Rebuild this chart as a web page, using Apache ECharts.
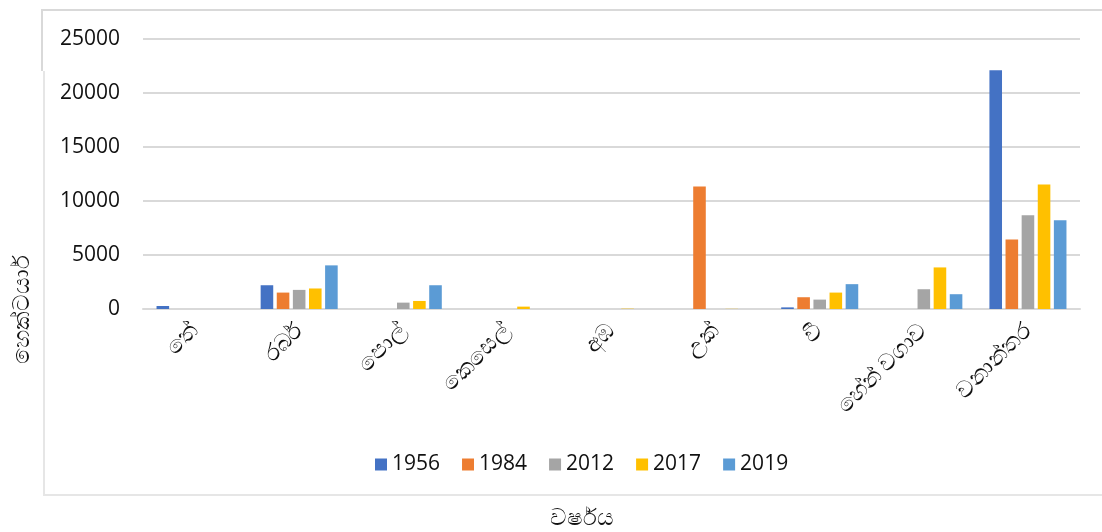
<!DOCTYPE html>
<html>
<head>
<meta charset="utf-8">
<script src="https://cdn.jsdelivr.net/npm/echarts@6/dist/echarts.min.js"></script>
<style>html,body{margin:0;padding:0;background:#fff}#c{width:1102px;height:532px}</style>
</head>
<body>
<div id="c"></div>
<script>
const categories = ['තේ', 'රබර්', 'පොල්', 'කෙසෙල්', 'අඹ', 'උක්', 'වී', 'හේන් වගාව', 'වනාන්තර'];
const seriesNames = ['1956', '1984', '2012', '2017', '2019'];
const v1956 = [280, 2200, 0, 0, 0, 0, 150, 0, 22100];
const v1984 = [0, 1520, 0, 0, 0, 11350, 1090, 0, 6430];
const v2012 = [0, 1770, 590, 0, 0, 0, 870, 1830, 8680];
const v2017 = [0, 1900, 745, 220, 30, 15, 1520, 3850, 11530];
const v2019 = [0, 4040, 2200, 0, 0, 0, 2300, 1370, 8220];
const yTicks = [0, 5000, 10000, 15000, 20000, 25000];
const yTitle = 'හෙක්ටයාර්';
const xTitle = 'වර්ෂය';

const colors = ['#4472C4', '#ED7D31', '#A5A5A5', '#FFC000', '#5B9BD5'];
const values = [v1956, v1984, v2012, v2017, v2019];
const font = '"Open Sans", "Noto Sans", sans-serif';

const chart = echarts.init(document.getElementById('c'));
chart.setOption({
  animation: false,
  color: colors,
  grid: { left: 143, right: 22, top: 39, bottom: 223, containLabel: false },
  legend: {
    data: seriesNames,
    left: 370, top: 449,
    itemWidth: 12, itemHeight: 12, itemGap: 22,
    icon: 'rect',
    textStyle: { fontSize: 21, color: '#111', fontFamily: font }
  },
  xAxis: {
    type: 'category',
    data: categories,
    axisLine: { lineStyle: { color: '#d9d9d9', width: 2 } },
    axisTick: { show: false },
    axisLabel: { rotate: 45, margin: 18, fontSize: 23, color: '#111', fontFamily: font, interval: 0 }
  },
  yAxis: {
    type: 'value',
    min: yTicks[0], max: yTicks[yTicks.length - 1], interval: yTicks[1] - yTicks[0],
    axisLine: { show: false },
    axisTick: { show: false },
    splitLine: { lineStyle: { color: '#d9d9d9', width: 2 } },
    axisLabel: { margin: 23, fontSize: 21, color: '#111', fontFamily: font, formatter: v => String(v) }
  },
  series: seriesNames.map((n, i) => ({
    name: n, type: 'bar', data: values[i],
    barGap: '28%', barCategoryGap: '26%',
    itemStyle: { color: colors[i] }
  })),
  graphic: [
    { type: 'polyline', silent: true, shape: { points: [[42, 71], [42, 10], [1102, 10]] }, style: { stroke: '#d9d9d9', lineWidth: 2, fill: null } },
    { type: 'polyline', silent: true, shape: { points: [[44, 71], [44, 495], [1102, 495]] }, style: { stroke: '#e6e6e6', lineWidth: 2, fill: null } },
    { type: 'text', x: 22, y: 309, rotation: Math.PI / 2, style: { text: yTitle, font: '23px ' + font, fill: '#111', align: 'center', verticalAlign: 'middle' } },
    { type: 'text', x: 582, y: 518, style: { text: xTitle, font: '23px ' + font, fill: '#111', align: 'center', verticalAlign: 'middle' } }
  ]
});
</script>
</body>
</html>
